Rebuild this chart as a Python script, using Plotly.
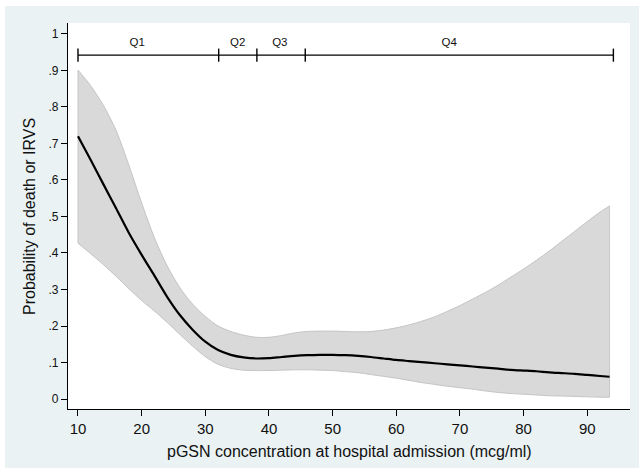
import plotly.graph_objects as go

# ---- data ----
x_grid = [10, 12, 14, 16, 18, 20, 22, 24, 26, 28, 30, 32, 34, 36, 38, 40, 42, 44, 46, 48,
          50, 52, 54, 56, 58, 60, 62, 64, 66, 68, 70, 72, 74, 76, 78, 80, 82, 84, 86, 88,
          90, 92, 93.5]
prob_fit = [0.720, 0.655, 0.588, 0.522, 0.455, 0.395, 0.338, 0.280, 0.230, 0.190,
            0.157, 0.134, 0.121, 0.114, 0.111, 0.112, 0.115, 0.118, 0.120, 0.121,
            0.121, 0.120, 0.118, 0.115, 0.111, 0.107, 0.104, 0.101, 0.098, 0.095,
            0.092, 0.089, 0.086, 0.083, 0.080, 0.078, 0.076, 0.073, 0.071, 0.069,
            0.066, 0.063, 0.061]
ci_upper = [0.901, 0.858, 0.804, 0.735, 0.640, 0.537, 0.442, 0.365, 0.305, 0.260,
            0.226, 0.200, 0.185, 0.175, 0.169, 0.169, 0.174, 0.181, 0.185, 0.186,
            0.186, 0.185, 0.184, 0.185, 0.189, 0.195, 0.203, 0.213, 0.225, 0.240,
            0.256, 0.274, 0.292, 0.312, 0.334, 0.356, 0.380, 0.405, 0.432, 0.459,
            0.486, 0.512, 0.529]
ci_lower = [0.427, 0.398, 0.368, 0.336, 0.302, 0.270, 0.241, 0.210, 0.177, 0.145,
            0.116, 0.095, 0.084, 0.079, 0.078, 0.078, 0.079, 0.080, 0.080, 0.079,
            0.078, 0.075, 0.072, 0.067, 0.062, 0.057, 0.051, 0.045, 0.040, 0.035,
            0.031, 0.027, 0.022, 0.018, 0.015, 0.013, 0.011, 0.009, 0.008, 0.007,
            0.006, 0.005, 0.005]

quartile_cuts = [10, 32.1, 38.1, 45.7, 94.1]
quartile_labels = ["Q1", "Q2", "Q3", "Q4"]
quartile_label_x = [19.3, 35.1, 41.7, 68.3]
bar_y = 0.942
bar_tick_half = 0.018
label_y = 0.974

y_ticks = [0, 0.1, 0.2, 0.3, 0.4, 0.5, 0.6, 0.7, 0.8, 0.9, 1.0]
y_ticktext = ["0", ".1", ".2", ".3", ".4", ".5", ".6", ".7", ".8", ".9", "1"]
x_ticks = [10, 20, 30, 40, 50, 60, 70, 80, 90]

FONT = "Liberation Sans, Arial, sans-serif"
BG = "#EAF2F3"

fig = go.Figure()

# confidence band: lower edge, then upper edge filled to it
fig.add_trace(go.Scatter(x=x_grid, y=ci_lower, mode="lines",
                         line=dict(color="#C4C4C4", width=1, shape="spline", smoothing=0.8),
                         hoverinfo="skip", showlegend=False))
fig.add_trace(go.Scatter(x=x_grid, y=ci_upper, mode="lines", fill="tonexty",
                         fillcolor="#D9D9D9",
                         line=dict(color="#C4C4C4", width=1, shape="spline", smoothing=0.8),
                         hoverinfo="skip", showlegend=False))
# band end edges
for i in (0, -1):
    fig.add_trace(go.Scatter(x=[x_grid[i], x_grid[i]], y=[ci_lower[i], ci_upper[i]],
                             mode="lines", line=dict(color="#C8C8C8", width=1),
                             hoverinfo="skip", showlegend=False))
# fitted line
fig.add_trace(go.Scatter(x=x_grid, y=prob_fit, mode="lines",
                         line=dict(color="black", width=2.2, shape="spline", smoothing=0.8),
                         showlegend=False))

# quartile bar
fig.add_trace(go.Scatter(x=[quartile_cuts[0], quartile_cuts[-1]], y=[bar_y, bar_y],
                         mode="lines", line=dict(color="black", width=1.4),
                         showlegend=False, hoverinfo="skip"))
for c in quartile_cuts:
    fig.add_trace(go.Scatter(x=[c, c], y=[bar_y - bar_tick_half, bar_y + bar_tick_half],
                             mode="lines", line=dict(color="black", width=1.4),
                             showlegend=False, hoverinfo="skip"))
fig.add_trace(go.Scatter(x=quartile_label_x, y=[label_y] * len(quartile_labels),
                         mode="text", text=quartile_labels,
                         textfont=dict(family=FONT, size=11.5, color="#111111"),
                         showlegend=False, hoverinfo="skip"))

L, R, T, B = 68, 9, 23, 62
W, H = 639, 471
pw, ph = W - L - R, H - T - B

def px_to_paper_x(px):
    return (px - L) / pw

def py_to_paper_y(py):
    return (H - B - py) / ph

fig.update_layout(
    width=W, height=H,
    margin=dict(l=L, r=R, t=T, b=B),
    paper_bgcolor=BG, plot_bgcolor="white",
    font=dict(family=FONT, color="#111111"),
    xaxis=dict(range=[8.43, 96.71], tickvals=x_ticks, showgrid=False, zeroline=False,
               showline=True, linecolor="black", linewidth=1.3,
               ticks="outside", ticklen=6, tickwidth=1.2, tickcolor="black",
               tickfont=dict(family=FONT, size=15, color="#111111")),
    yaxis=dict(range=[-0.0274, 1.0301], tickvals=y_ticks, ticktext=y_ticktext,
               showgrid=False, zeroline=False,
               showline=True, linecolor="black", linewidth=1.3,
               ticks="outside", ticklen=6, tickwidth=1.2, tickcolor="black",
               tickfont=dict(family=FONT, size=12, color="#111111")),
    annotations=[
        dict(text="pGSN concentration at hospital admission (mcg/ml)",
             xref="paper", yref="paper", x=0.5, y=py_to_paper_y(451.5),
             xanchor="center", yanchor="middle", showarrow=False,
             font=dict(family=FONT, size=16, color="#111111")),
        dict(text="Probability of death or IRVS",
             xref="paper", yref="paper", x=px_to_paper_x(29), y=py_to_paper_y(217),
             xanchor="center", yanchor="middle", showarrow=False, textangle=-90,
             font=dict(family=FONT, size=16, color="#111111")),
    ],
    shapes=[
        dict(type="rect", xref="paper", yref="paper", layer="above",
             x0=px_to_paper_x(-2), x1=px_to_paper_x(5), y0=py_to_paper_y(480), y1=py_to_paper_y(-5),
             fillcolor="white", line=dict(width=0)),
        dict(type="rect", xref="paper", yref="paper", layer="above",
             x0=px_to_paper_x(-2), x1=px_to_paper_x(645), y0=py_to_paper_y(6), y1=py_to_paper_y(-5),
             fillcolor="white", line=dict(width=0)),
        dict(type="rect", xref="paper", yref="paper", layer="above",
             x0=px_to_paper_x(-2), x1=px_to_paper_x(645), y0=py_to_paper_y(480), y1=py_to_paper_y(468),
             fillcolor="white", line=dict(width=0)),
    ],
)

fig.write_html("out.html")
